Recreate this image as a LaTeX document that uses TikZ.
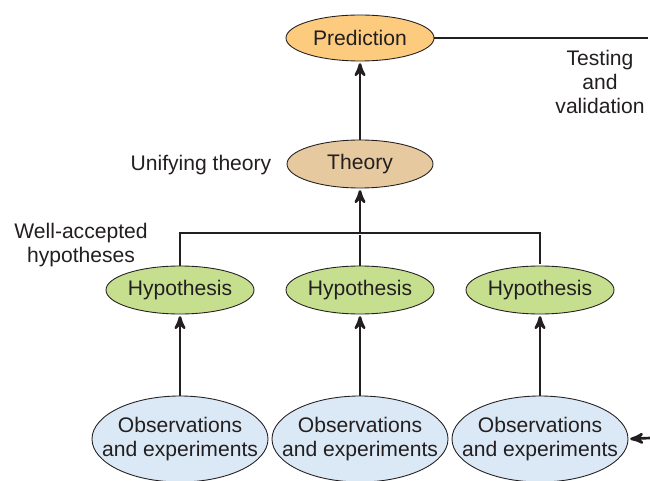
\documentclass[tikz,border=0pt]{standalone}
\usepackage{fontspec}
\setmainfont{Liberation Sans}
\usetikzlibrary{arrows,shapes.geometric,positioning}

\definecolor{predcol}{RGB}{252,203,126}
\definecolor{theocol}{RGB}{230,201,159}
\definecolor{hypcol}{RGB}{198,223,142}
\definecolor{obscol}{RGB}{219,233,246}
\definecolor{inkcol}{RGB}{35,31,32}

\begin{document}
\begin{tikzpicture}[>=stealth',shorten >=1pt,node distance=3.6cm,
		every node/.style={text=inkcol,font=\fontsize{12pt}{13.4pt}\selectfont},
		link/.style={draw=inkcol,line width=1.5pt},
		oval node/.style={ellipse,draw=inkcol,line width=0.5pt,inner sep=0pt},
		pred node/.style={oval node,fill=predcol,minimum width=2.96cm,minimum height=0.92cm},
		theo node/.style={oval node,fill=theocol,minimum width=2.92cm,minimum height=0.96cm},
		hyp node/.style={oval node,fill=hypcol,minimum width=2.96cm,minimum height=0.96cm},
		obs node/.style={oval node,fill=obscol,inner xsep=-0.41cm,inner ysep=0.17cm,
			minimum width=3.52cm,minimum height=1.72cm,align=center},
		side label/.style={align=center}]
	\useasboundingbox (0,0) rectangle (13,-9.62);
	\node[pred node] (pred) at (7.2,-0.76) {Prediction};
	\node[theo node] (theory) at (7.2,-3.28) {Theory};
	\node[hyp node] (hyp2) at (7.2,-5.8) {Hypothesis};
	\node[hyp node] (hyp1) [left of=hyp2] {Hypothesis};
	\node[hyp node] (hyp3) [right of=hyp2] {Hypothesis};
	\node[obs node] (obs2) at (7.2,-8.78) {Observations\\and experiments};
	\node[obs node] (obs1) [left of=obs2] {Observations\\and experiments};
	\node[obs node] (obs3) [right of=obs2] {Observations\\and experiments};
	%
	% Labels beside the tree.
	\node[side label] (testing) at (12.0,-1.64) {Testing\\and\\validation};
	\node[side label,anchor=east] (unify) at (5.55,-3.3) {Unifying theory};
	\node[side label] (wellacc) at (1.62,-4.9) {Well-accepted\\hypotheses};
	%
	% Free ends at the right edge and the joining bar.
	\coordinate (outtop) at (13,-0.76);
	\coordinate (outbot) at (13,-8.76);
	\coordinate (bar) at (7.2,-4.66);
	%
	% Testing line and feedback arrow.
	\path[link] (pred.east) -- (outtop);
	\path[link,->] (outbot) -- (obs3.east);
	%
	% Theory leads to prediction.
	\path[link,->] (theory.north) -- (pred.south);
	%
	% Hypotheses joined into theory.
	\path[link] (hyp1.north) |- (bar) -| (hyp3.north);
	\path[link] (hyp2.north) -- (bar);
	\path[link,->] (bar) -- (theory.south);
	%
	% Observations support each hypothesis.
	\path[link,->] (obs1.north) -- (hyp1.south);
	\path[link,->] (obs2.north) -- (hyp2.south);
	\path[link,->] (obs3.north) -- (hyp3.south);
\end{tikzpicture}
\end{document}
